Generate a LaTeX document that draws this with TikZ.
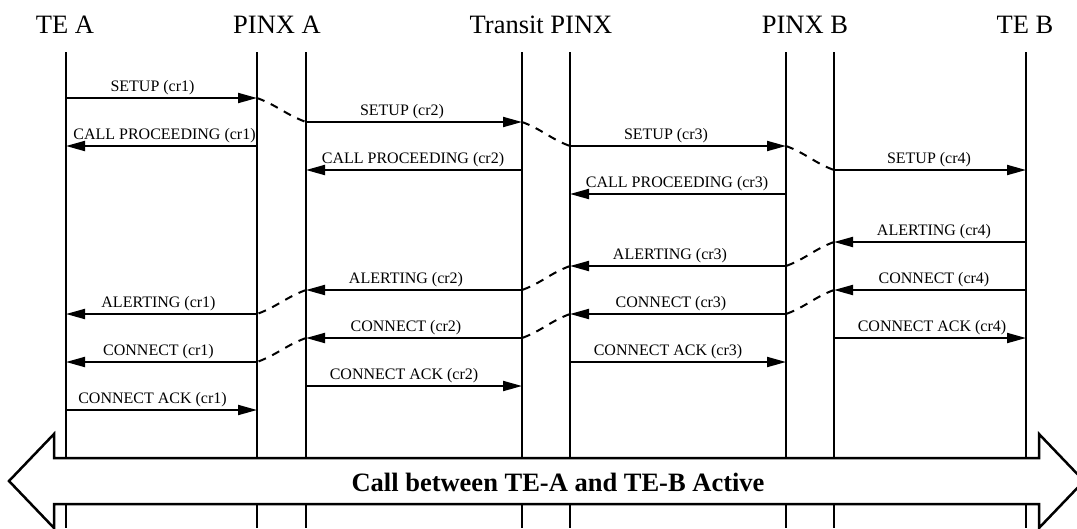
\documentclass[tikz,border=0pt]{standalone}
\usepackage{fontspec}
\setmainfont{Liberation Serif}
\usetikzlibrary{arrows.meta}

\tikzset{
  lane/.style={line width=2.4pt},
  msg/.style={line width=2pt,-{Triangle[length=19pt,width=10pt]}},
  hop/.style={line width=2pt,dash pattern=on 8pt off 7pt},
  msglabel/.style={font=\fontsize{16}{18}\selectfont,inner sep=0pt,anchor=base,yshift=6.5pt},
  title/.style={font=\fontsize{26.5}{30}\selectfont,inner sep=0pt,anchor=base}
}

\begin{document}
\begin{tikzpicture}[x=1pt,y=-1pt]
        \useasboundingbox (0,0) rectangle (1077,528);
        \node[title] (tTEA) at (65,33) {TE A};
        \node[title] (tPINXA) at (277,33) {PINX A};
        \node[title] (tTRANS) at (541,33) {Transit PINX};
        \node[title] (tPINXB) at (805,33) {PINX B};
        \node[title] (tTEB) at (1025,33) {TE B};
        % lanes
        \coordinate (teA) at (66,52);
        \coordinate (pinxA1) at (257,52);
        \coordinate (pinxA2) at (306,52);
        \coordinate (trans1) at (522,52);
        \coordinate (trans2) at (570,52);
        \coordinate (pinxB1) at (786,52);
        \coordinate (pinxB2) at (834,52);
        \coordinate (teB) at (1026,52);
        \coordinate (bottom) at (0,528);
        \foreach \l in {teA,pinxA1,pinxA2,trans1,trans2,pinxB1,pinxB2,teB}
          \draw[lane] (\l) -- (\l |- bottom);
        \foreach \r in {0,...,13}
          \coordinate (r\r) at (0,{98+24*\r});
        % TE A <-> PINX A
        \draw[msg] (teA |- r0) -- node[msglabel,xshift=-9pt] (setup1) {SETUP (cr1)} (pinxA1 |- r0);
        \draw[msg] (pinxA1 |- r2) -- node[msglabel,xshift=3pt] (proc1) {CALL PROCEEDING (cr1)} (teA |- r2);
        \draw[msg] (pinxA1 |- r9) -- node[msglabel,xshift=-3pt] (alert1) {ALERTING (cr1)} (teA |- r9);
        \draw[msg] (pinxA1 |- r11) -- node[msglabel,xshift=-3pt] (conn1) {CONNECT (cr1)} (teA |- r11);
        \draw[msg] (teA |- r13) -- node[msglabel,xshift=-9pt] (ack1) {CONNECT ACK (cr1)} (pinxA1 |- r13);
        % PINX A <-> Transit PINX
        \draw[msg] (pinxA2 |- r1) -- node[msglabel,xshift=-12pt] (setup2) {SETUP (cr2)} (trans1 |- r1);
        \draw[msg] (trans1 |- r3) -- node[msglabel,xshift=-1pt] (proc2) {CALL PROCEEDING (cr2)} (pinxA2 |- r3);
        \draw[msg] (trans1 |- r8) -- node[msglabel,xshift=-8pt] (alert2) {ALERTING (cr2)} (pinxA2 |- r8);
        \draw[msg] (trans1 |- r10) -- node[msglabel,xshift=-8pt] (conn2) {CONNECT (cr2)} (pinxA2 |- r10);
        \draw[msg] (pinxA2 |- r12) -- node[msglabel,xshift=-10pt] (ack2) {CONNECT ACK (cr2)} (trans1 |- r12);
        % Transit PINX <-> PINX B
        \draw[msg] (trans2 |- r2) -- node[msglabel,xshift=-12pt] (setup3) {SETUP (cr3)} (pinxB1 |- r2);
        \draw[msg] (pinxB1 |- r4) -- node[msglabel,xshift=-1pt] (proc3) {CALL PROCEEDING (cr3)} (trans2 |- r4);
        \draw[msg] (pinxB1 |- r7) -- node[msglabel,xshift=-8pt] (alert3) {ALERTING (cr3)} (trans2 |- r7);
        \draw[msg] (pinxB1 |- r9) -- node[msglabel,xshift=-7pt] (conn3) {CONNECT (cr3)} (trans2 |- r9);
        \draw[msg] (trans2 |- r11) -- node[msglabel,xshift=-10pt] (ack3) {CONNECT ACK (cr3)} (pinxB1 |- r11);
        % PINX B <-> TE B
        \draw[msg] (pinxB2 |- r3) -- node[msglabel,xshift=-1pt] (setup4) {SETUP (cr4)} (teB |- r3);
        \draw[msg] (teB |- r6) -- node[msglabel,xshift=4pt] (alert4) {ALERTING (cr4)} (pinxB2 |- r6);
        \draw[msg] (teB |- r8) -- node[msglabel,xshift=4pt] (conn4) {CONNECT (cr4)} (pinxB2 |- r8);
        \draw[msg] (pinxB2 |- r10) -- node[msglabel,xshift=2pt] (ack4) {CONNECT ACK (cr4)} (teB |- r10);
        % hops through the PINXs
        \draw[hop] (pinxA1 |- r0) to[out=-20,in=160] (pinxA2 |- r1);
        \draw[hop] (trans1 |- r1) to[out=-20,in=160] (trans2 |- r2);
        \draw[hop] (pinxB1 |- r2) to[out=-20,in=160] (pinxB2 |- r3);
        \draw[hop] (pinxB2 |- r6) to[out=200,in=20] (pinxB1 |- r7);
        \draw[hop] (trans2 |- r7) to[out=200,in=20] (trans1 |- r8);
        \draw[hop] (pinxA2 |- r8) to[out=200,in=20] (pinxA1 |- r9);
        \draw[hop] (pinxB2 |- r8) to[out=200,in=20] (pinxB1 |- r9);
        \draw[hop] (trans2 |- r9) to[out=200,in=20] (trans1 |- r10);
        \draw[hop] (pinxA2 |- r10) to[out=200,in=20] (pinxA1 |- r11);
        % active call
        \draw[line width=2.5pt,fill=white] (54,458) -- (54,434) -- (9,481) -- (54,528) -- (54,504)
          -- (1039,504) -- (1039,528) -- (1084,481) -- (1039,434) -- (1039,458) -- cycle;
        \node[font=\bfseries\fontsize{26.5}{30}\selectfont,inner sep=0pt,anchor=base] (active) at (558,491) {Call between TE-A and TE-B Active};
      \end{tikzpicture}
\end{document}
